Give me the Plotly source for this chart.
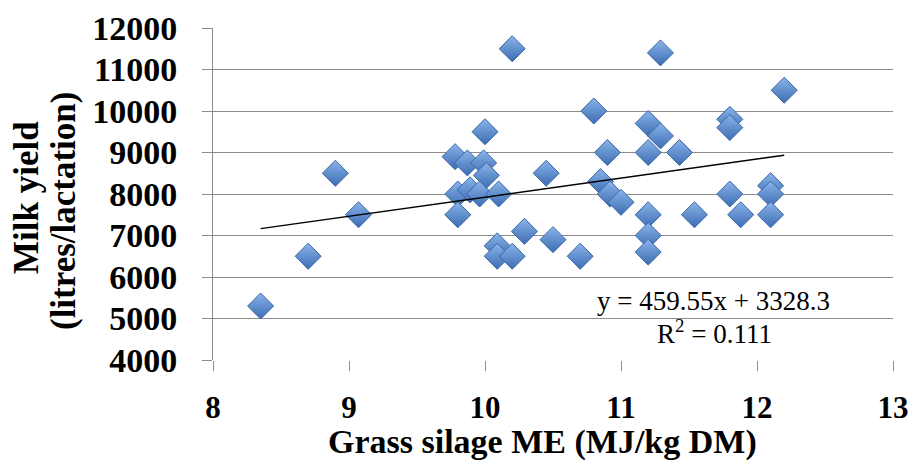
import plotly.graph_objects as go

# Data
silage_me = [8.35, 8.7, 8.9, 9.07, 9.78, 9.87, 9.99, 10.0, 10.01, 9.8, 9.89, 9.96, 10.1,
             9.8, 10.09, 10.09, 10.2, 10.2, 10.29, 10.45, 10.5, 10.7, 10.8, 10.85, 10.92,
             10.9, 11.0, 11.2, 11.29, 11.2, 11.43, 11.29, 11.2, 11.2, 11.2, 11.54, 11.8,
             11.8, 11.8, 11.88, 12.1, 12.1, 12.1, 12.2]
milk_yield = [5300, 6500, 8500, 7500, 8900, 8750, 8750, 9500, 8450, 8000, 8100, 8000, 8000,
              7500, 6750, 6500, 6500, 11500, 7100, 8500, 6900, 6500, 10000, 8300, 8000,
              9000, 7800, 9700, 9400, 9000, 9000, 11400, 7500, 7000, 6600, 7500, 9800,
              9600, 8000, 7500, 8200, 8000, 7500, 10500]

trend_slope = 459.55
trend_intercept = 3328.3
trend_r2 = 0.111

x_ticks = [8, 9, 10, 11, 12, 13]
y_ticks = [4000, 5000, 6000, 7000, 8000, 9000, 10000, 11000, 12000]

x_title = "Grass silage ME (MJ/kg DM)"
y_title_line1 = "Milk yield"
y_title_line2 = "(litres/lactation)"

trend_x = [min(silage_me), max(silage_me)]
trend_y = [trend_slope * v + trend_intercept for v in trend_x]

SERIF = "Liberation Serif, Times New Roman, serif"
GRID = "#8c8c8c"

fig = go.Figure()
fig.add_trace(go.Scatter(
    x=silage_me, y=milk_yield, mode="markers",
    marker=dict(symbol="diamond", size=20, color="#8ab4ea",
                gradient=dict(type="vertical", color="#3c6cb2"),
                line=dict(color="#3b67a6", width=1)),
    showlegend=False, hoverinfo="x+y"))
fig.add_trace(go.Scatter(
    x=trend_x, y=trend_y, mode="lines",
    line=dict(color="black", width=1.5), showlegend=False, hoverinfo="skip"))

fig.update_layout(
    width=911, height=462,
    margin=dict(l=213, r=18, t=28, b=102, autoexpand=False),
    paper_bgcolor="white", plot_bgcolor="white",
    xaxis=dict(range=[8, 13], tickvals=x_ticks, ticktext=[str(v) for v in x_ticks],
               showgrid=False, zeroline=False, showline=False, automargin=False,
               ticks="outside", ticklen=10, tickcolor=GRID, tickwidth=1,
               ticklabelstandoff=10,
               tickfont=dict(family=SERIF, size=31, color="black", weight="bold")),
    yaxis=dict(range=[4000, 12000], tickvals=y_ticks, ticktext=[str(v) for v in y_ticks],
               showgrid=True, gridcolor=GRID, gridwidth=1, automargin=False,
               zeroline=False, showline=True, linecolor=GRID, linewidth=1,
               ticks="outside", ticklen=10, tickcolor=GRID, tickwidth=1,
               ticklabelstandoff=18,
               tickfont=dict(family=SERIF, size=34, color="black", weight="bold")),
    annotations=[
        dict(text=x_title, xref="paper", yref="paper", x=0.485, y=-0.248,
             xanchor="center", yanchor="middle", showarrow=False,
             font=dict(family=SERIF, size=34, color="black", weight="bold")),
        dict(text=y_title_line1, xref="paper", yref="paper", x=-0.2735, y=0.488,
             xanchor="center", yanchor="middle", showarrow=False, textangle=-90,
             font=dict(family=SERIF, size=35, color="black", weight="bold")),
        dict(text=y_title_line2, xref="paper", yref="paper", x=-0.219, y=0.449,
             xanchor="center", yanchor="middle", showarrow=False, textangle=-90,
             font=dict(family=SERIF, size=35, color="black", weight="bold")),
        dict(text=f"y = {trend_slope}x + {trend_intercept}", xref="x", yref="y",
             x=11.68, y=5430, xanchor="center", yanchor="middle", showarrow=False,
             font=dict(family=SERIF, size=27, color="black")),
        dict(text=f"R<sup>2</sup> = {trend_r2}", xref="x", yref="y",
             x=11.69, y=4680, xanchor="center", yanchor="middle", showarrow=False,
             font=dict(family=SERIF, size=27, color="black")),
    ],
)

fig.write_html("out.html")
